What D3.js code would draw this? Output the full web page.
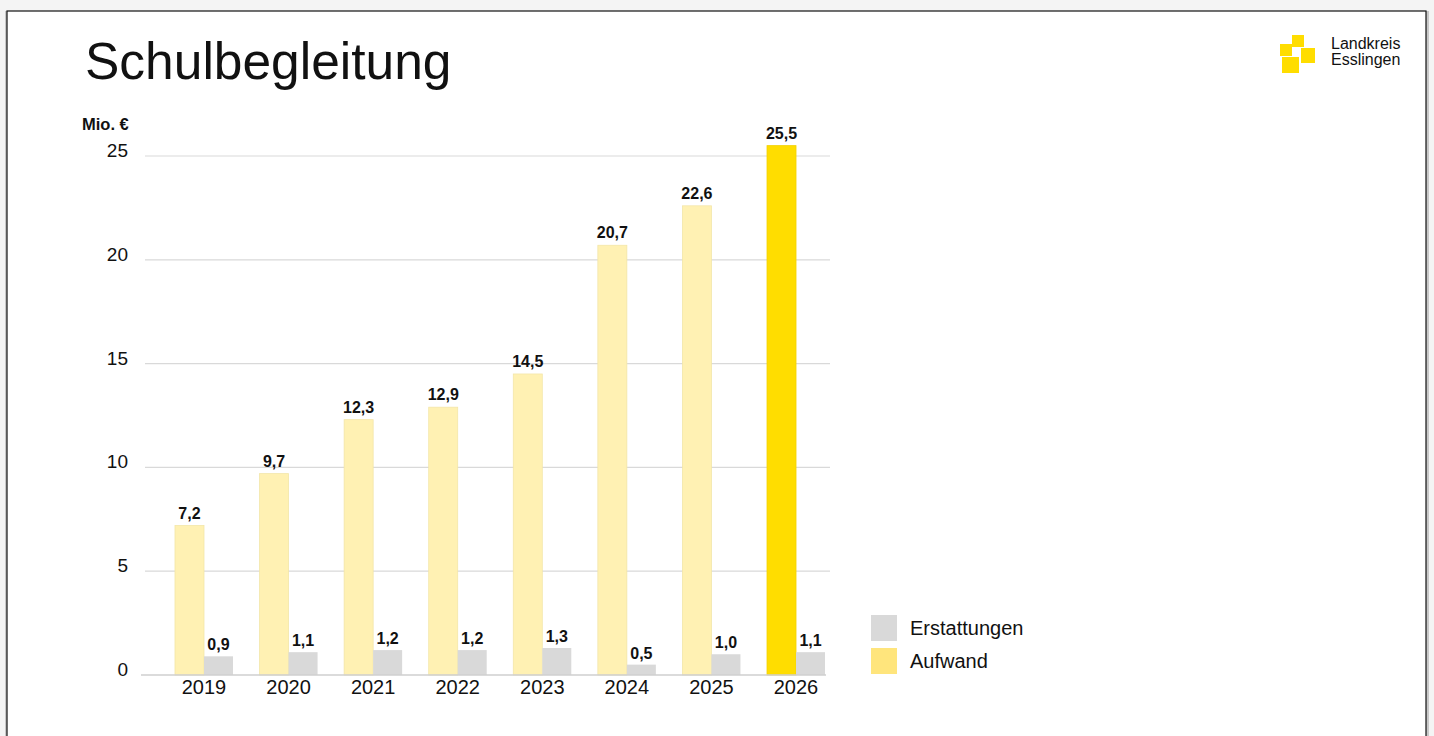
<!DOCTYPE html>
<html>
<head>
  <meta charset="utf-8" />
  <script src="https://cdn.jsdelivr.net/npm/d3@7"></script>
  <style>
    html, body { margin: 0; padding: 0; background: #f4f4f4; overflow: hidden; }
    svg text { font-family: "Liberation Sans", Arial, sans-serif; fill: #111; }
  </style>
</head>
<body>
  <svg class="chart" width="1434" height="736"></svg>
  <script>
    const years = ["2019", "2020", "2021", "2022", "2023", "2024", "2025", "2026"];
    const aufwand = [7.2, 9.7, 12.3, 12.9, 14.5, 20.7, 22.6, 25.5];
    const erstattungen = [0.9, 1.1, 1.2, 1.2, 1.3, 0.5, 1.0, 1.1];
    const yTicks = [0, 5, 10, 15, 20, 25];
    const legendItems = ["Erstattungen", "Aufwand"];

    const svg = d3.select(".chart");
    const fmt = (v) => v.toFixed(1).replace(".", ",");

    // page frame
    svg.append("rect").attr("x", 5).attr("y", 11).attr("width", 1424).attr("height", 740).attr("fill", "#c8c8c8");
    svg.append("rect").attr("x", 7).attr("y", 11).attr("width", 1419).attr("height", 740)
      .attr("fill", "white").attr("stroke", "#111").attr("stroke-width", 1.2);

    svg.append("text").text("Schulbegleitung")
      .attr("x", 85).attr("y", 79).attr("font-size", "51.5px");

    // logo
    const logo = svg.append("g").attr("fill", "#FFDD00");
    [[1292, 35, 12, 12], [1280, 44, 12, 12], [1301, 48, 14, 15], [1282, 57, 17, 16]].forEach((r) => {
      logo.append("rect").attr("x", r[0]).attr("y", r[1]).attr("width", r[2]).attr("height", r[3]);
    });
    svg.append("text").text("Landkreis").attr("x", 1331).attr("y", 49).attr("font-size", "16px");
    svg.append("text").text("Esslingen").attr("x", 1331).attr("y", 65).attr("font-size", "16px");

    const x = d3.scaleBand().domain(years).range([161.7, 838.3]).padding(0);
    const barW = 29;
    const y = d3.scaleLinear().domain([0, 25]).range([675, 156]);

    // gridlines
    svg.append("g").selectAll("line").data(yTicks.filter((t) => t > 0)).enter().append("line")
      .attr("x1", 145).attr("x2", 830)
      .attr("y1", (d) => y(d)).attr("y2", (d) => y(d))
      .attr("stroke", "#d9d9d9").attr("stroke-width", 1.2);

    svg.append("g").selectAll("text").data(yTicks).enter().append("text")
      .text((d) => d)
      .attr("x", 128).attr("y", (d) => y(d) + 1)
      .attr("text-anchor", "end").attr("font-size", "19px");

    svg.append("text").text("Mio. €").attr("x", 82).attr("y", 130)
      .attr("font-size", "16.5px").attr("font-weight", "bold");

    const cx = (d) => x(d) + x.bandwidth() / 2;

    // Aufwand bars
    svg.append("g").selectAll("rect").data(years).enter().append("rect")
      .attr("x", (d) => cx(d) - barW)
      .attr("y", (d, i) => y(aufwand[i]))
      .attr("width", barW)
      .attr("height", (d, i) => y(0) - y(aufwand[i]))
      .attr("fill", (d, i) => (i === years.length - 1 ? "#FFDD00" : "#FFF1B3"))
      .attr("stroke", (d, i) => (i === years.length - 1 ? "#F2D200" : "#F3E6A8"))
      .attr("stroke-width", 0.8);

    // Erstattungen bars
    svg.append("g").selectAll("rect").data(years).enter().append("rect")
      .attr("x", (d) => cx(d))
      .attr("y", (d, i) => y(erstattungen[i]))
      .attr("width", barW)
      .attr("height", (d, i) => y(0) - y(erstattungen[i]))
      .attr("fill", "#D9D9D9");

    // baseline
    svg.append("line").attr("x1", 141).attr("x2", 826).attr("y1", y(0)).attr("y2", y(0))
      .attr("stroke", "#cfcfcf").attr("stroke-width", 1.5);

    // value labels
    svg.append("g").selectAll("text").data(years).enter().append("text")
      .text((d, i) => fmt(aufwand[i]))
      .attr("x", (d) => cx(d) - barW / 2)
      .attr("y", (d, i) => y(aufwand[i]) - 7)
      .attr("text-anchor", "middle").attr("font-size", "16px").attr("font-weight", "bold");
    svg.append("g").selectAll("text").data(years).enter().append("text")
      .text((d, i) => fmt(erstattungen[i]))
      .attr("x", (d) => cx(d) + barW / 2)
      .attr("y", (d, i) => y(erstattungen[i]) - 6)
      .attr("text-anchor", "middle").attr("font-size", "16px").attr("font-weight", "bold");

    // year labels
    svg.append("g").selectAll("text").data(years).enter().append("text")
      .text((d) => d)
      .attr("x", (d) => cx(d)).attr("y", 694)
      .attr("text-anchor", "middle").attr("font-size", "20px");

    // legend
    const legendColors = ["#D9D9D9", "#FFE57C"];
    const lg = svg.append("g").selectAll("g").data(legendItems).enter().append("g")
      .attr("transform", (d, i) => `translate(871, ${615 + i * 33})`);
    lg.append("rect").attr("width", 26).attr("height", 26).attr("fill", (d, i) => legendColors[i]);
    lg.append("text").text((d) => d).attr("x", 39).attr("y", 20).attr("font-size", "20px");
  </script>
</body>
</html>
